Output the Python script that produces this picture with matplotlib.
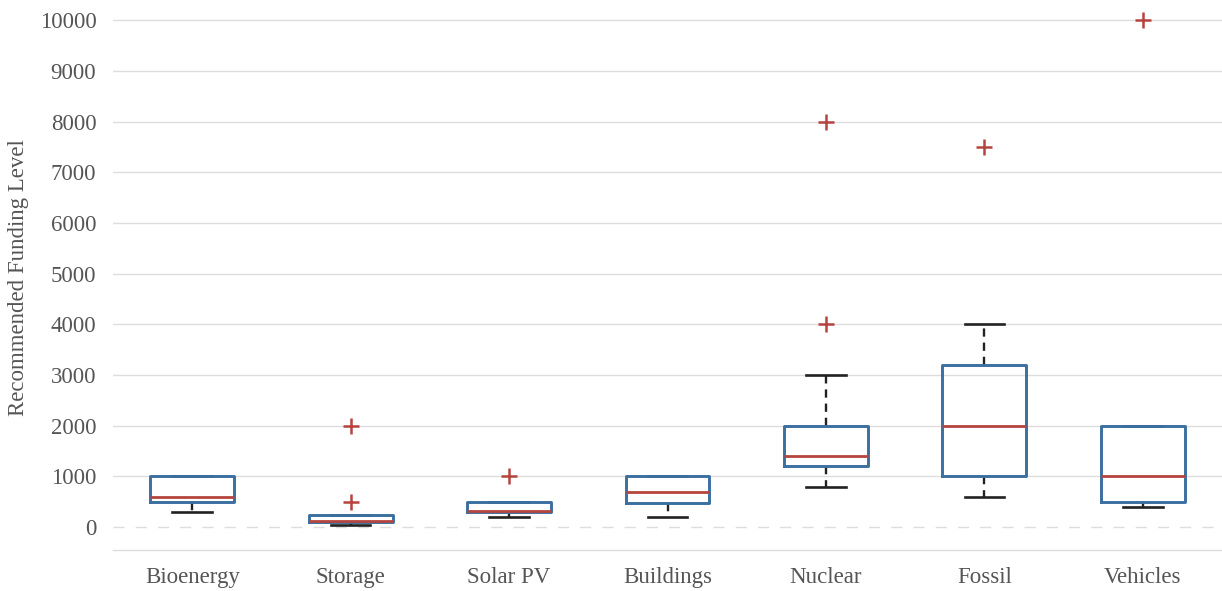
import matplotlib
matplotlib.use('Agg')
import matplotlib.pyplot as plt

categories = ['Bioenergy', 'Storage', 'Solar PV', 'Buildings', 'Nuclear', 'Fossil', 'Vehicles']
q1 = [500, 100, 300, 470, 1200, 1000, 500]
median = [600, 130, 310, 700, 1400, 2000, 1000]
q3 = [1000, 250, 500, 1000, 2000, 3200, 2000]
whis_lo = [300, 50, 200, 200, 800, 600, 400]
whis_hi = [1000, 250, 500, 1000, 3000, 4000, 2000]
fliers = [[], [500, 2000], [1000], [], [4000, 8000], [7500], [10000]]

blue = '#3b6fa0'
red = '#b5443f'
grey = '#555555'

plt.rcParams['font.family'] = ['Liberation Serif', 'DejaVu Serif']

stats = []
for i, name in enumerate(categories):
    stats.append({'label': name, 'q1': q1[i], 'med': median[i], 'q3': q3[i],
                  'whislo': whis_lo[i], 'whishi': whis_hi[i], 'fliers': fliers[i]})

fig = plt.figure(figsize=(12.22, 5.91), dpi=100)
ax = fig.add_axes([0.0925, 0.0694, 0.9075, 0.922])

res = ax.bxp(stats, widths=0.53, showfliers=True,
             boxprops=dict(color=blue, linewidth=2.1),
             medianprops=dict(color=red, linewidth=2.0),
             whiskerprops=dict(color='#222222', linewidth=1.7, linestyle=(0, (3.5, 2.5))),
             capprops=dict(color='#222222', linewidth=1.9),
             capwidths=0.25,
             flierprops=dict(marker='+', markeredgecolor=red, markersize=11, markeredgewidth=1.8))
for b in res['boxes']:
    b.set_zorder(4)
for m in res['medians']:
    m.set_zorder(5)
for f in res['fliers']:
    f.set_zorder(5)
for w in res['whiskers'] + res['caps']:
    w.set_zorder(3)

ax.set_xlim(0.5, 7.5)
ax.set_ylim(-450, 10300)
ax.set_yticks(range(0, 10001, 1000))
for y in range(1000, 10001, 1000):
    ax.axhline(y, color='#dddddd', linewidth=1.0, zorder=1)
ax.axhline(0, color='#dddddd', linewidth=1.0, linestyle=(0, (8, 8)), zorder=1)

for side in ['left', 'right', 'top']:
    ax.spines[side].set_visible(False)
ax.spines['bottom'].set_color('#dddddd')
ax.spines['bottom'].set_linewidth(1.0)
ax.tick_params(axis='both', length=0, labelsize=16.5, labelcolor=grey)
ax.tick_params(axis='x', pad=12)
ax.tick_params(axis='y', pad=12)
ax.set_ylabel('Recommended Funding Level', fontsize=16.5, color=grey, labelpad=8)

fig.savefig('out.png', dpi=100)
